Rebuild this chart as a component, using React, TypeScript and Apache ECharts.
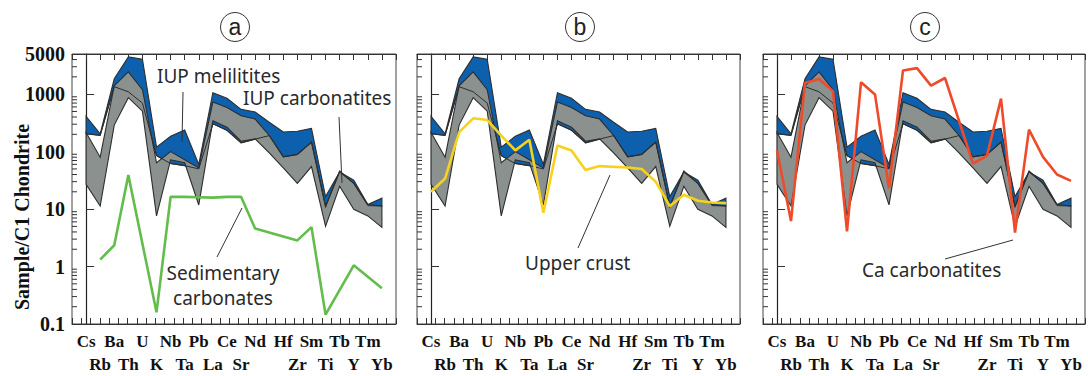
import React, { useEffect, useRef } from "react";
import * as echarts from "echarts";

// 22 positions on the element axis (position 13 is an unlabeled slot)
const elements = ["Cs","Rb","Ba","Th","U","K","Nb","Ta","Pb","La","Ce","Sr","Nd","","Hf","Zr","Sm","Ti","Tb","Y","Tm","Yb"];

// IUP melilitites field (blue)
const melHi = [410, 204, 1850, 4450, 4050, 120, 185, 238, 60, 1060, 850, 545, 490, 325, 220, 226, 254, 16.5, 44, 32, 12, 15.5];
const melLo = [205, 192, 1350, 1100, 700, 85, 62, 57, 50, 305, 235, 142, 165, 190, 81, 89, 145, 11, 44, 28, 11.5, 11.3];

// IUP carbonatites field (grey)
const carbHi = [215, 80, 1400, 2450, 1200, 64, 100, 72, 52, 730, 585, 420, 369, 191, 81, 89, 147, 11, 46, 28, 12, 11.3];
const carbLo = [27, 11.3, 290, 870, 505, 7.6, 72, 64, 11.8, 345, 266, 152, 167, 95, 52, 28, 55, 5, 25, 9.9, 7.6, 4.8];

// reference patterns
const sedCarb: (number | null)[] = [null, 1.32, 2.35, 39, null, 0.16, 16.3, 16.3, 16.1, 15.8, 16.3, 16.4, 4.6, null, null, 2.85, 4.85, 0.145, null, 1.05, null, 0.42];
const upperCrust: (number | null)[] = [20, 34, 218, 380, 355, 190, 105, 161, 8.6, 128, 105, 48, 56, null, 53, 50, 30, 11.3, 17.8, 14, 13, 12.7];
const caCarb: (number | null)[] = [105, 6.2, 1570, 1840, 1130, 4.1, 1610, 990, 23, 2590, 2840, 1410, 1910, null, 62, 85, 836, 3.9, 242, 81, 40, 31];

const minorTicks = [0.2,0.3,0.4,0.5,0.6,0.7,0.8,0.9,2,3,4,5,6,7,8,9,20,30,40,50,60,70,80,90,200,300,400,500,600,700,800,900,2000,3000,4000];

const panels = [
  { left: 72, width: 324, letter: "a", cx: 235 },
  { left: 417, width: 323, letter: "b", cx: 580 },
  { left: 763, width: 323, letter: "c", cx: 925 },
];
const GRID_TOP = 54;
const GRID_H = 274;

const BLUE = "#0c60ad";
const GREY = "#8a918f";
const EDGE = "#2e2e2e";
const SERIF = "'Liberation Serif', 'Times New Roman', serif";
const SANS = "'Noto Sans', 'DejaVu Sans', sans-serif";

function bandSeries(hi: number[], lo: number[], fill: string, idx: number, z: number) {
  return {
    type: "custom",
    xAxisIndex: idx * 3,
    yAxisIndex: idx,
    z,
    silent: true,
    clip: true,
    data: [[0, hi[0]]],
    renderItem: (_params: any, api: any) => {
      const pts: number[][] = [];
      for (let i = 0; i < hi.length; i++) pts.push(api.coord([i, hi[i]]));
      for (let i = lo.length - 1; i >= 0; i--) pts.push(api.coord([i, lo[i]]));
      return {
        type: "polygon",
        shape: { points: pts },
        style: { fill, stroke: EDGE, lineWidth: 1.1 },
      };
    },
  };
}

function lineSeries(arr: (number | null)[], color: string, idx: number, width: number, z: number) {
  return {
    type: "line",
    xAxisIndex: idx * 3,
    yAxisIndex: idx,
    z,
    silent: true,
    symbol: "none",
    data: arr.map((v, i) => (v == null ? null : [i, v])).filter((d) => d !== null),
    lineStyle: { color, width },
  };
}

export default function App() {
  const ref = useRef<HTMLDivElement>(null);
  useEffect(() => {
    if (!ref.current) return;
    const chart = echarts.init(ref.current, undefined, { renderer: "svg" });

    const grid: any[] = [];
    const xAxis: any[] = [];
    const yAxis: any[] = [];
    const series: any[] = [];

    panels.forEach((p, idx) => {
      grid.push({ left: p.left, top: GRID_TOP, width: p.width, height: GRID_H, show: true, borderColor: "#444", borderWidth: 1, backgroundColor: "transparent" });
      // element axis (labels only)
      xAxis.push({
        type: "value", gridIndex: idx, min: -1, max: 22, interval: 1, position: "bottom",
        axisLine: { show: true, lineStyle: { color: "#333", width: 1 } },
        axisTick: { show: false },
        splitLine: { show: false },
        axisLabel: {
          show: true, margin: 6, fontFamily: SERIF, fontWeight: "bold", fontSize: 17, color: "#111", lineHeight: 23,
          verticalAlign: "top",
          formatter: (v: number) => {
            const i = Math.round(v);
            if (i < 0 || i >= elements.length) return "";
            return i % 2 === 0 ? elements[i] : "\n" + elements[i];
          },
        },
      });
      // top ticks, one per element slot
      xAxis.push({
        type: "value", gridIndex: idx, min: -1, max: 22, interval: 1, position: "top",
        axisLine: { show: true, lineStyle: { color: "#333", width: 1 } },
        axisTick: { show: true, inside: true, length: 6, lineStyle: { color: "#333" } },
        splitLine: { show: false }, axisLabel: { show: false },
      });
      // bottom tick ruler (denser ticks)
      xAxis.push({
        type: "value", gridIndex: idx, min: 0, max: 35, interval: 1, position: "bottom",
        axisLine: { show: false },
        axisTick: { show: true, inside: true, length: 6, lineStyle: { color: "#333" } },
        splitLine: { show: false }, axisLabel: { show: false },
      });
      yAxis.push({
        type: "log", logBase: 10, gridIndex: idx, min: 0.1, max: 5000,
        axisLine: { show: true, lineStyle: { color: "#222", width: 1.2 } },
        axisTick: { show: true, inside: true, length: 8, lineStyle: { color: "#333" } },
        splitLine: { show: false },
        axisLabel: {
          show: idx === 0, margin: 7, fontFamily: SERIF, fontWeight: "bold", fontSize: 20, color: "#111",
          formatter: (v: number) => String(Number(v.toPrecision(3))),
        },
      });

      series.push({
        type: "custom", xAxisIndex: idx * 3, yAxisIndex: idx, z: 1, silent: true,
        data: minorTicks.map((v) => [-1, v]),
        renderItem: (_params: any, api: any) => {
          const pt = api.coord([api.value(0), api.value(1)]);
          return { type: "line", shape: { x1: pt[0], y1: pt[1], x2: pt[0] + 5, y2: pt[1] }, style: { stroke: "#333", lineWidth: 1 } };
        },
      });
      series.push(bandSeries(melHi, melLo, BLUE, idx, 2));
      series.push(bandSeries(carbHi, carbLo, GREY, idx, 3));
      series.push(lineSeries(melLo, EDGE, idx, 1, 4));
    });

    series.push(lineSeries(sedCarb, "#62bd4c", 0, 2.6, 6));
    series.push(lineSeries(upperCrust, "#f7d21d", 1, 2.6, 6));
    series.push(lineSeries(caCarb, "#ef4b2b", 2, 2.6, 6));

    const annoText = (x: number, y: number, text: string, align = "left") => ({
      type: "text", x, y, z: 20,
      style: { text, fontFamily: SANS, fontSize: 19, fill: "#2a2a2a", textAlign: align, textVerticalAlign: "middle" },
    });
    const leader = (x1: number, y1: number, x2: number, y2: number) => ({
      type: "line", z: 20, shape: { x1, y1, x2, y2 }, style: { stroke: "#333", lineWidth: 1 },
    });

    const graphic: any[] = [];
    panels.forEach((p) => {
      graphic.push({ type: "circle", shape: { cx: p.cx, cy: 27, r: 14.5 }, style: { fill: "#fff", stroke: "#333", lineWidth: 1 } });
      graphic.push({ type: "text", x: p.cx, y: 27, style: { text: p.letter, fontFamily: "'Liberation Sans', Arial, sans-serif", fontSize: 23, fill: "#222", textAlign: "center", textVerticalAlign: "middle" } });
    });
    graphic.push({
      type: "text", x: 22, y: 217, rotation: Math.PI / 2,
      style: { text: "Sample/C1 Chondrite", fontFamily: SERIF, fontWeight: "bold", fontSize: 20, fill: "#111", textAlign: "center", textVerticalAlign: "middle" },
    });
    graphic.push(annoText(157, 76, "IUP melilitites"));
    graphic.push(annoText(243, 98, "IUP carbonatites"));
    graphic.push(annoText(223, 273, "Sedimentary", "center"));
    graphic.push(annoText(223, 298, "carbonates", "center"));
    graphic.push(annoText(525, 263, "Upper crust"));
    graphic.push(annoText(862, 270, "Ca carbonatites"));
    graphic.push(leader(183, 92, 182, 142));
    graphic.push(leader(339, 117, 342, 183));
    graphic.push(leader(217, 257, 242, 208));
    graphic.push(leader(578, 248, 610, 175));
    graphic.push(leader(945, 259, 1013, 240));

    chart.setOption({ animation: false, backgroundColor: "#fff", grid, xAxis, yAxis, series, graphic });
    return () => chart.dispose();
  }, []);

  return <div ref={ref} style={{ position: "fixed", left: 0, top: 0, width: 1088, height: 376 }} />;
}
